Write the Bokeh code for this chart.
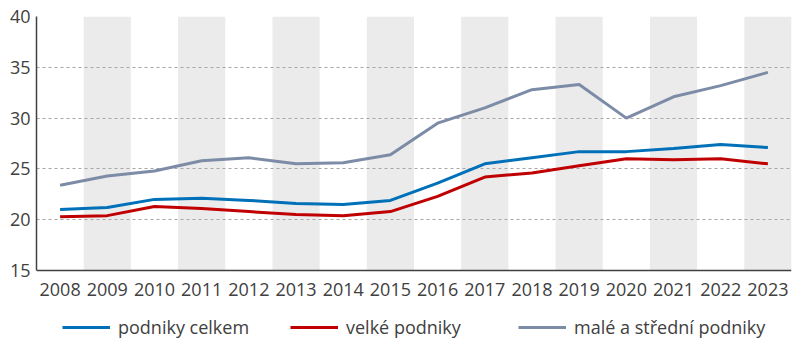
from bokeh.plotting import figure
from bokeh.models import Range1d, FixedTicker, Legend, LegendItem, Span
from bokeh.core.properties import value
from bokeh.embed import file_html
from bokeh.resources import INLINE

years = list(range(2008, 2024))
celkem = [21.0, 21.2, 22.0, 22.1, 21.9, 21.6, 21.5, 21.9, 23.6, 25.5, 26.1, 26.7, 26.7, 27.0, 27.4, 27.1]
velke = [20.3, 20.4, 21.3, 21.1, 20.8, 20.5, 20.4, 20.8, 22.3, 24.2, 24.6, 25.3, 26.0, 25.9, 26.0, 25.5]
male = [23.4, 24.3, 24.8, 25.8, 26.1, 25.5, 25.6, 26.4, 29.5, 31.0, 32.8, 33.3, 30.0, 32.1, 33.2, 34.5]
names = ["podniky celkem", "velké podniky", "malé a střední podniky"]
colors = ["#0070b8", "#c00000", "#7d8ca6"]
y_ticks = [15, 20, 25, 30, 35, 40]
year_labels = [str(y) for y in years]

FONT = "Open Sans"
TXT = "#404040"

# frame spans the whole height; the value axis occupies its upper part
ymin, ymax = y_ticks[0], y_ticks[-1]
top_px, axis_px, total_px = 16, 270, 346
per_px = (ymax - ymin) / (axis_px - top_px)
y_low = ymin - (total_px - axis_px) * per_px

p = figure(width=800, height=346, output_backend="svg", toolbar_location=None,
           x_range=Range1d(years[0] - 0.5, years[-1] + 0.5),
           y_range=Range1d(y_low, ymax),
           min_border_left=36, min_border_right=9, min_border_top=16, min_border_bottom=0)
p.outline_line_color = None
p.background_fill_color = "white"
p.border_fill_color = "white"

band_years = years[1::2]
p.vbar(x=band_years, width=1, bottom=ymin, top=ymax,
       fill_color="#ebebeb", line_color=None, level="image")

renderers = []
for vals, c in zip([celkem, velke, male], colors):
    r = p.line(years, vals, line_color=c, line_width=3)
    renderers.append(r)

p.xgrid.visible = False
p.ygrid.ticker = FixedTicker(ticks=y_ticks[1:])
p.ygrid.grid_line_color = "#a6a6a6"
p.ygrid.grid_line_dash = "3 3"
p.ygrid.grid_line_width = 1

# category axis line and labels at the bottom of the value range
p.xaxis.visible = False
p.add_layout(Span(location=ymin, dimension="width", line_color="#404040", line_width=1.5))
p.text(x=years, y=[ymin] * len(years), text=year_labels, text_align="center",
       text_baseline="middle", y_offset=19, text_font=value(FONT),
       text_font_size="18px", text_color=TXT)

ax = p.yaxis[0]
ax.bounds = (ymin, ymax)
ax.ticker = FixedTicker(ticks=y_ticks)
ax.axis_line_color = "#404040"
ax.axis_line_width = 1.5
ax.major_tick_line_color = None
ax.minor_tick_line_color = None
ax.major_tick_out = 0
ax.major_tick_in = 0
ax.minor_tick_out = 0
ax.major_label_standoff = 6
ax.major_label_text_font = FONT
ax.major_label_text_font_size = "18px"
ax.major_label_text_color = TXT

legend = Legend(items=[LegendItem(label=n, renderers=[r]) for n, r in zip(names, renderers)],
                orientation="horizontal", location=(26, 7))
legend.label_text_font = FONT
legend.label_text_font_size = "18px"
legend.label_text_color = TXT
legend.label_height = 20
legend.label_width = 132
legend.glyph_width = 48
legend.glyph_height = 20
legend.spacing = 40
legend.label_standoff = 8
legend.border_line_color = None
legend.background_fill_alpha = 0
legend.margin = 0
legend.padding = 0
p.add_layout(legend)

open("out.html", "w").write(file_html(p, INLINE))
